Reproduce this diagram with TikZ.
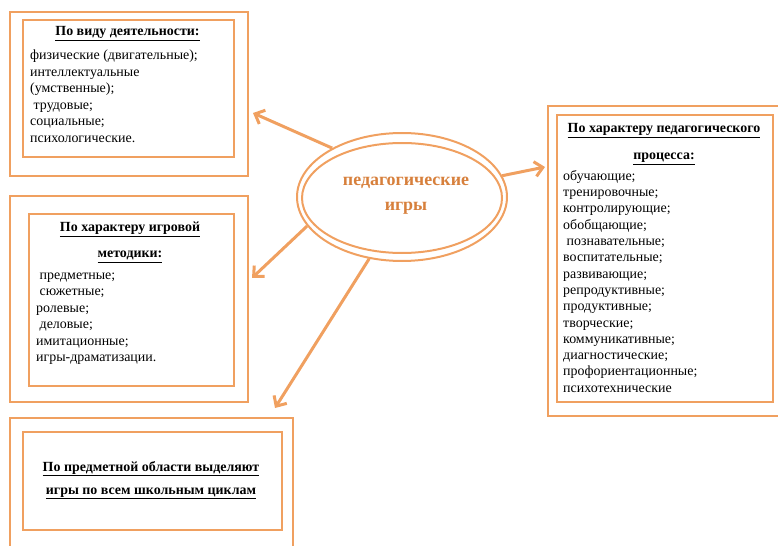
\documentclass[tikz,border=0pt]{standalone}
\usepackage{fontspec}
\setmainfont{Liberation Serif}
\usetikzlibrary{arrows.meta,shapes.geometric,positioning}
\definecolor{gameOrange}{RGB}{240,160,96}
\definecolor{gameText}{RGB}{215,128,60}

\tikzset{
  boxFrame/.style={draw=gameOrange, line width=2bp, rectangle, inner sep=0pt, anchor=north west},
  ringFrame/.style={draw=gameOrange, line width=2bp, ellipse, inner sep=0pt},
  item/.style={anchor=base west, inner sep=0pt, font=\fontsize{14}{16}\selectfont},
  head/.style={anchor=base, inner sep=0pt, font=\fontsize{14}{16}\selectfont\bfseries},
  arr/.style={draw=gameOrange, line width=3bp, -{Straight Barb[length=8bp,width=15bp]}},
}

\begin{document}
\begin{tikzpicture}[x=1bp,y=-1bp]

\clip (0,0) rectangle (778,546);

\def\vidItems{физические (двигательные);, интеллектуальные, {(умственные);}, {\ трудовые;}, социальные;, психологические.}
\def\metItems{{\ предметные;}, {\ сюжетные;}, ролевые;, {\ деловые;}, имитационные;, игры-драматизации.}
\def\procItems{обучающие;, тренировочные;, контролирующие;, обобщающие;, {\ познавательные;}, воспитательные;, развивающие;, репродуктивные;, продуктивные;, творческие;, коммуникативные;, диагностические;, профориентационные;, психотехнические}

% the boxes
\node[boxFrame, minimum width=238bp, minimum height=164bp] (vidOuter) at (9,11) {};
\node[boxFrame, minimum width=211bp, minimum height=137bp] (vidBox) at (22,19) {};
\node[boxFrame, minimum width=238bp, minimum height=206bp] (metOuter) at (9,195) {};
\node[boxFrame, minimum width=205bp, minimum height=172bp] (metBox) at (28,213) {};
\node[boxFrame, minimum width=283bp, minimum height=150bp] (predOuter) at (9,417) {};
\node[boxFrame, minimum width=259bp, minimum height=98bp] (predBox) at (22,431) {};
\node[boxFrame, minimum width=250bp, minimum height=310bp] (procOuter) at (547,105) {};
\node[boxFrame, minimum width=216bp, minimum height=287bp] (procBox) at (556,114) {};

% headings
\node[head] (vidHead) at (127.5,36) {\underline{По виду деятельности:}};
\node[head] (metHead) at (130,232) {\underline{По характеру игровой}};
\node[head] (metHeadB) at (130,258) {\underline{методики:}};
\node[head] (procHead) at (664,133) {\underline{По характеру педагогического}};
\node[head] (procHeadB) at (664,160) {\underline{процесса:}};
\node[head] (predHead) at (151,471) {\underline{По предметной области выделяют}};
\node[head] (predHeadB) at (151,494) {\underline{игры по всем школьным циклам}};

% the lists
\foreach \txt [count=\i] in \vidItems
  \node[item] (vid\i) at (30,{43+16.6*\i}) {\txt};
\foreach \txt [count=\i] in \metItems
  \node[item] (met\i) at (36,{263+16.4*\i}) {\txt};
\foreach \txt [count=\i] in \procItems
  \node[item] (proc\i) at (563,{164+16.3*\i}) {\txt};

% centre
\node[ringFrame, minimum width=210bp, minimum height=128bp] (games) at (402,197) {};
\node[ringFrame, minimum width=200bp, minimum height=110bp] (gamesIn) at (402,198) {};
\node[align=center, text=gameText, font=\fontsize{18}{25}\selectfont\bfseries] (gamesText) at (406,196) {педагогические\\игры};

% arrows
\coordinate (vidTip) at (253,113);
\coordinate (procTip) at (545,167);
\coordinate (metTip) at (252,278);
\coordinate (predTip) at (275,408);
\draw[arr] (games.145) -- (vidTip);
\draw[arr] (games.12) -- (procTip);
\draw[arr] (games.197) -- (metTip);
\draw[arr] (games.242) -- (predTip);

\end{tikzpicture}
\end{document}
